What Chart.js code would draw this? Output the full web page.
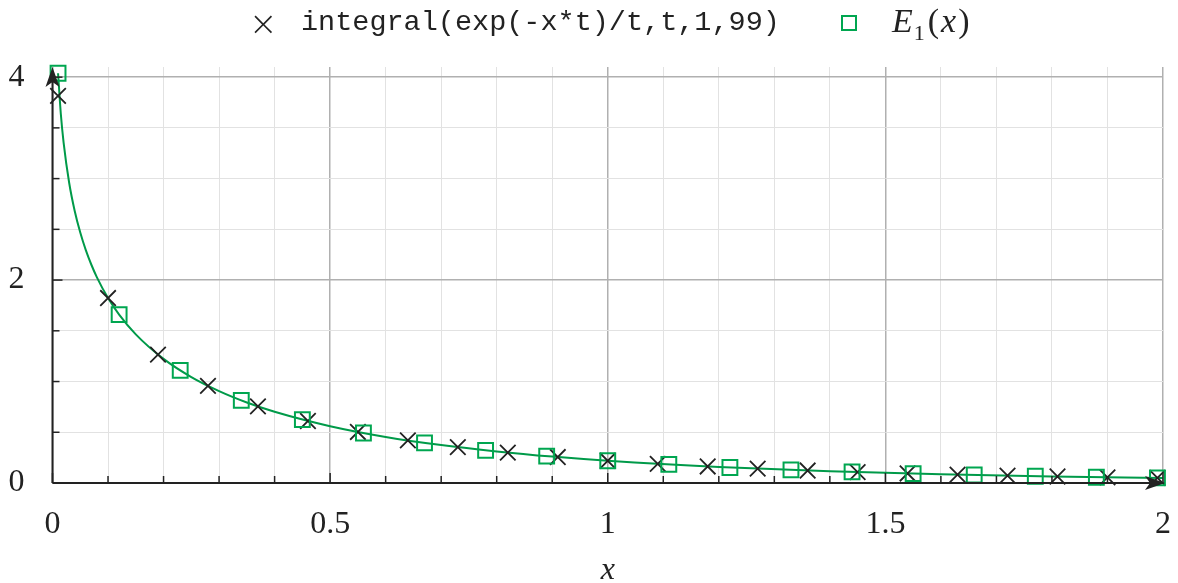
<!DOCTYPE html>
<html>
<head>
<meta charset="utf-8">
<script src="https://cdn.jsdelivr.net/npm/chart.js@4.4.1/dist/chart.umd.min.js"></script>
<style>
body { margin: 0; background: #fff; }
#wrap { position: relative; width: 1178px; height: 583px; }
#legend { position: absolute; top: 0; left: 0; width: 1178px; height: 46px; }
.mark-x { position: absolute; left: 249px; top: 3px; font: 34px 'DejaVu Sans', sans-serif; font-weight: 300; color: #222; }
.lab-tt { position: absolute; left: 301px; top: 6px; font: 28.5px 'Liberation Mono', monospace; color: #222; }
.mark-sq { position: absolute; left: 841px; top: 15px; width: 12px; height: 12px; border: 2px solid #00a650; }
.lab-m { position: absolute; left: 892px; top: 2px; font: 34px 'Liberation Serif', serif; color: #222; }
.lab-m sub { font-size: 22px; font-style: normal; margin-left: 1px; margin-right: 3px; }
.lab-m .xx { margin: 0 2px; }
</style>
</head>
<body>
<div id="wrap">
  <canvas id="myChart" width="1178" height="583"></canvas>
  <div id="legend">
    <span class="mark-x">×</span>
    <span class="lab-tt">integral(exp(-x*t)/t,t,1,99)</span>
    <span class="mark-sq"></span>
    <span class="lab-m"><i>E</i><sub>1</sub>(<i class="xx">x</i>)</span>
  </div>
</div>
<script>
// 数据: 积分 (× 标记)
var crossX = [0.01, 0.10, 0.19, 0.28, 0.37, 0.46, 0.55, 0.64, 0.73, 0.82, 0.91, 1.00,
              1.09, 1.18, 1.27, 1.36, 1.45, 1.54, 1.63, 1.72, 1.81, 1.90, 1.99];
var crossY = [3.815, 1.823, 1.265, 0.957, 0.755, 0.611, 0.503, 0.420, 0.353, 0.300, 0.256, 0.219,
              0.189, 0.163, 0.142, 0.123, 0.107, 0.094, 0.083, 0.073, 0.064, 0.056, 0.050];

// 数据: E1(x) (方块标记)
var squareX = [0.01, 0.12, 0.23, 0.34, 0.45, 0.56, 0.67, 0.78, 0.89, 1.00,
               1.11, 1.22, 1.33, 1.44, 1.55, 1.66, 1.77, 1.88, 1.99];
var squareY = [4.038, 1.660, 1.110, 0.815, 0.625, 0.493, 0.396, 0.322, 0.265, 0.219,
               0.183, 0.153, 0.129, 0.109, 0.093, 0.079, 0.067, 0.057, 0.050];

// 曲线 E1(x)
var curveX = [0.01, 0.015, 0.02, 0.03, 0.04, 0.05, 0.06, 0.07, 0.08, 0.1, 0.12, 0.15, 0.2, 0.25,
              0.3, 0.35, 0.4, 0.5, 0.6, 0.7, 0.8, 0.9, 1.0, 1.2, 1.4, 1.6, 1.8, 2.0];
var curveY = [4.038, 3.637, 3.355, 2.959, 2.681, 2.468, 2.295, 2.151, 2.027, 1.823, 1.660, 1.465, 1.223, 1.044,
              0.906, 0.794, 0.702, 0.560, 0.454, 0.374, 0.311, 0.260, 0.219, 0.158, 0.116, 0.086, 0.065, 0.049];

// 刻度
var xTicks = [0, 0.1, 0.2, 0.3, 0.4, 0.5, 0.6, 0.7, 0.8, 0.9, 1, 1.1, 1.2, 1.3, 1.4, 1.5, 1.6, 1.7, 1.8, 1.9, 2];
var xLabels = ['0', '0.5', '1', '1.5', '2'];
var yTicks = [0, 0.5, 1, 1.5, 2, 2.5, 3, 3.5, 4];
var yLabels = ['0', '2', '4'];

function pts(xs, ys) {
    return xs.map(function (x, i) { return { x: x, y: ys[i] }; });
}

function isMajorX(v) { return xLabels.indexOf(String(Math.round(v * 10) / 10)) >= 0; }
function isMajorY(v) { return yLabels.indexOf(String(v)) >= 0; }

var green = '#00a650';
var ink = '#222';

// 向内的刻度线和坐标轴箭头
var axisPlugin = {
    id: 'axisPlugin',
    afterDraw: function (chart) {
        var ctx = chart.ctx;
        var a = chart.chartArea;
        var xs = chart.scales.x, ys = chart.scales.y;
        ctx.save();
        ctx.strokeStyle = ink;
        ctx.fillStyle = ink;
        ctx.lineWidth = 1.5;
        xTicks.forEach(function (v) {
            var px = xs.getPixelForValue(v);
            var len = isMajorX(v) ? 10 : 7;
            ctx.beginPath();
            ctx.moveTo(px, a.bottom);
            ctx.lineTo(px, a.bottom - len);
            ctx.stroke();
        });
        yTicks.forEach(function (v) {
            var py = ys.getPixelForValue(v);
            var len = isMajorY(v) ? 10 : 7;
            ctx.beginPath();
            ctx.moveTo(a.left, py);
            ctx.lineTo(a.left + len, py);
            ctx.stroke();
        });
        // 轴线
        ctx.lineWidth = 2;
        ctx.beginPath();
        ctx.moveTo(a.left, a.bottom);
        ctx.lineTo(a.right, a.bottom);
        ctx.moveTo(a.left, a.bottom);
        ctx.lineTo(a.left, a.top + 6);
        ctx.stroke();
        // 箭头
        var tx = a.right + 2, ty = a.bottom;
        ctx.beginPath();
        ctx.moveTo(tx, ty);
        ctx.lineTo(tx - 20, ty - 7);
        ctx.lineTo(tx - 15, ty);
        ctx.lineTo(tx - 20, ty + 7);
        ctx.closePath();
        ctx.fill();
        tx = a.left; ty = a.top;
        ctx.beginPath();
        ctx.moveTo(tx, ty);
        ctx.lineTo(tx - 7, ty + 20);
        ctx.lineTo(tx, ty + 15);
        ctx.lineTo(tx + 7, ty + 20);
        ctx.closePath();
        ctx.fill();
        ctx.restore();
    }
};

document.addEventListener('DOMContentLoaded', function () {
    var ctx = document.getElementById('myChart').getContext('2d');
    new Chart(ctx, {
        type: 'scatter',
        data: {
            datasets: [
                {
                    label: 'E1(x)',
                    data: pts(squareX, squareY),
                    pointStyle: 'rect',
                    pointRadius: 10.5,
                    pointBorderWidth: 2,
                    borderColor: green,
                    backgroundColor: 'rgba(0,0,0,0)',
                    showLine: false,
                    clip: false
                },
                {
                    label: 'integral(exp(-x*t)/t,t,1,99)',
                    data: pts(crossX, crossY),
                    pointStyle: 'crossRot',
                    pointRadius: 11,
                    pointBorderWidth: 1.8,
                    borderColor: ink,
                    backgroundColor: ink,
                    showLine: false,
                    clip: false
                },
                {
                    label: 'curve',
                    data: pts(curveX, curveY),
                    showLine: true,
                    borderColor: '#009a49',
                    borderWidth: 2,
                    pointRadius: 0,
                    cubicInterpolationMode: 'monotone',
                    fill: false,
                    clip: false
                }
            ]
        },
        options: {
            responsive: false,
            animation: false,
            layout: { padding: { top: 67, right: 0, left: 0, bottom: 0 } },
            plugins: {
                legend: { display: false },
                tooltip: { enabled: false }
            },
            scales: {
                x: {
                    type: 'linear',
                    min: 0,
                    max: 2,
                    afterBuildTicks: function (s) { s.ticks = xTicks.map(function (v) { return { value: v }; }); },
                    afterFit: function (s) { s.height = 100; s.paddingRight = 15; s.paddingLeft = 0; },
                    border: { display: false },
                    grid: {
                        drawTicks: false,
                        lineWidth: function (c) { return isMajorX(c.tick.value) ? 1.5 : 1; },
                        color: function (c) { return isMajorX(c.tick.value) ? '#b0b0b0' : '#e2e2e2'; }
                    },
                    ticks: {
                        autoSkip: false,
                        maxRotation: 0,
                        padding: 22,
                        color: ink,
                        font: { family: 'Liberation Serif', size: 32 },
                        callback: function (v) { return isMajorX(v) ? String(Math.round(v * 10) / 10) : ''; }
                    },
                    title: {
                        display: true,
                        text: 'x',
                        color: ink,
                        padding: { top: 0, bottom: 0 },
                        font: { family: 'Liberation Serif', size: 32, style: 'italic', lineHeight: 0.8 }
                    }
                },
                y: {
                    type: 'linear',
                    min: 0,
                    max: 4.1,
                    afterBuildTicks: function (s) { s.ticks = yTicks.map(function (v) { return { value: v }; }); },
                    afterFit: function (s) { s.width = 52.5; },
                    border: { display: false },
                    grid: {
                        drawTicks: false,
                        lineWidth: function (c) { return isMajorY(c.tick.value) ? 1.5 : 1; },
                        color: function (c) { return isMajorY(c.tick.value) ? '#b0b0b0' : '#e2e2e2'; }
                    },
                    ticks: {
                        autoSkip: false,
                        padding: 28,
                        color: ink,
                        font: { family: 'Liberation Serif', size: 32 },
                        callback: function (v) { return isMajorY(v) ? String(v) : ''; }
                    }
                }
            }
        },
        plugins: [axisPlugin]
    });
});
</script>
</body>
</html>
